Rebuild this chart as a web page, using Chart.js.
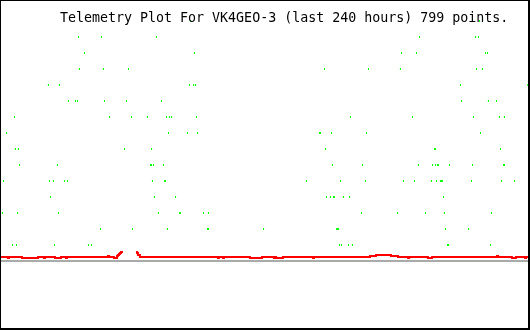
<!DOCTYPE html>
<html>
<head>
<meta charset="utf-8">
<script src="https://cdn.jsdelivr.net/npm/chart.js@4.4.1/dist/chart.umd.min.js"></script>
<style>
  html, body { margin: 0; padding: 0; background: #fff; }
  #wrap { position: relative; width: 530px; height: 330px; }
  #frame {
    position: absolute; left: 0; top: 0; width: 530px; height: 330px;
    box-sizing: border-box; border: solid #000; border-width: 1px 2px 2px 1px;
    pointer-events: none;
  }
  #title {
    position: absolute; left: 60px; top: 11px;
    font: 13.3px/13px "DejaVu Sans Mono", monospace;
    white-space: pre; color: #000;
  }
</style>
</head>
<body>
<div id="wrap">
  <canvas id="plot" width="530" height="330"></canvas>
  <div id="title">Telemetry Plot For VK4GEO-3 (last 240 hours) 799 points.</div>
  <div id="frame"></div>
</div>
<script>
// x axis is hours over the last 240 hours
const hoursSpan = 240;

// green samples, one row of hours per level
const greenLevels = [15, 14, 13, 12, 11, 10, 9, 8, 7, 6, 5, 4, 3, 2, 1];
const greenHours = [
  [86.6, 218.0],
  [35.7, 46.1, 71.1, 190.7, 216.1, 217.5],
  [38.4, 88.4, 182.5, 189.3, 220.7, 221.6],
  [36.1, 47.0, 58.4, 147.5, 167.5, 182.0, 216.6, 219.3],
  [22.0, 27.0, 86.1, 88.0, 88.9, 209.3, 239.9],
  [31.1, 34.3, 35.2, 47.5, 57.5, 73.4, 209.8, 222.0, 225.7],
  [6.6, 49.8, 59.8, 67.0, 75.7, 77.0, 78.0, 89.3, 159.3, 187.5, 215.2, 227.0, 229.3],
  [3.0, 76.6, 85.2, 89.8, 145.2, 145.7, 150.7, 166.6, 218.4],
  [7.0, 8.4, 56.6, 68.9, 148.0, 197.5, 198.0, 227.5],
  [8.9, 26.1, 68.4, 68.9, 69.8, 74.3, 151.1, 164.8, 190.2, 196.6, 198.0, 198.9, 199.3, 204.3, 214.8, 228.9, 229.3],
  [1.6, 22.5, 24.3, 29.3, 30.7, 69.3, 74.8, 75.2, 139.3, 154.8, 166.1, 183.4, 188.4, 196.1, 198.4, 200.2, 200.7, 201.1, 214.3, 228.0, 233.9],
  [23.0, 70.2, 79.8, 148.4, 150.2, 151.6, 152.0, 156.1, 158.9, 201.6],
  [1.1, 8.0, 26.6, 72.0, 81.6, 82.0, 92.5, 94.8, 164.3, 180.7, 193.4, 202.0, 223.4],
  [45.7, 60.2, 76.1, 94.3, 94.8, 119.8, 153.0, 153.4, 153.9, 202.5, 213.0],
  [5.7, 7.5, 24.8, 40.2, 41.6, 154.3, 155.2, 158.4, 160.2, 203.4, 203.9, 223.0]
];

// red trace (null = no data)
const redHours = [0, 3.6, 4.1, 10.0, 17.3, 20.0, 20.5, 25.0, 27.7,
  30.0, 30.5, 49.1, 49.6, 51.8, 53.2, 53.6, 54.1, 54.5, 55.0, 55.9, 56.4, 61.8, 62.3, 62.7, 63.6,
  99.1, 99.5, 101.4, 101.8, 113.6, 119.1, 124.5, 125.0,
  125.5, 128.6, 142.3, 142.7, 168.2, 170.9, 177.7,
  180.9, 185.5, 186.0, 194.5, 196.4, 225.9, 226.4, 232.7,
  234.5, 238.6, 239.1, 240];
const redValues = [0.25, 0.19, 0.25, 0.19, 0.25, 0.19, 0.25, 0.19, 0.25,
  0.19, 0.25, 0.31, 0.25, 0.19, 0.31, 0.38, 0.44, 0.5, 0.56, 0.56, null, 0.56, 0.5, 0.38, 0.25,
  0.19, 0.25, 0.19, 0.25, 0.19, 0.25, 0.19, 0.25,
  0.19, 0.25, 0.19, 0.25, 0.31, 0.38, 0.31,
  0.25, 0.19, 0.25, 0.19, 0.25, 0.31, 0.25, 0.19,
  0.25, 0.19, 0.25, 0.25];

// zero line
const baseHours = [0, hoursSpan];
const baseValues = [0, 0];

const greenPoints = [];
greenLevels.forEach((lv, i) => {
  greenHours[i].forEach(h => greenPoints.push({ x: h, y: lv }));
});
const redPoints = redHours.map((h, i) => ({ x: h, y: redValues[i] }));
const basePoints = baseHours.map((h, i) => ({ x: h, y: baseValues[i] }));

new Chart(document.getElementById('plot'), {
  type: 'scatter',
  data: {
    datasets: [
      {
        label: 'green',
        data: greenPoints,
        showLine: false,
        pointStyle: 'line',
        rotation: 90,
        pointRadius: 1,
        pointBorderWidth: 1,
        borderColor: '#00ff00',
        backgroundColor: '#00ff00',
        order: 0
      },
      {
        label: 'red',
        data: redPoints,
        showLine: true,
        spanGaps: false,
        stepped: 'before',
        pointRadius: 0,
        borderWidth: 2,
        borderColor: '#ff0000',
        order: 1
      },
      {
        label: 'base',
        data: basePoints,
        showLine: true,
        pointRadius: 0,
        borderWidth: 2,
        borderColor: '#aaaaaa',
        order: 2
      }
    ]
  },
  options: {
    responsive: false,
    animation: false,
    events: [],
    layout: { autoPadding: false, padding: { left: 0, right: 2, top: 0, bottom: 0 } },
    plugins: {
      legend: { display: false },
      tooltip: { enabled: false },
      title: { display: false }
    },
    scales: {
      x: { type: 'linear', display: false, min: 0, max: hoursSpan },
      y: { type: 'linear', display: false, min: -4.3125, max: 16.3125 }
    }
  }
});
</script>
</body>
</html>
